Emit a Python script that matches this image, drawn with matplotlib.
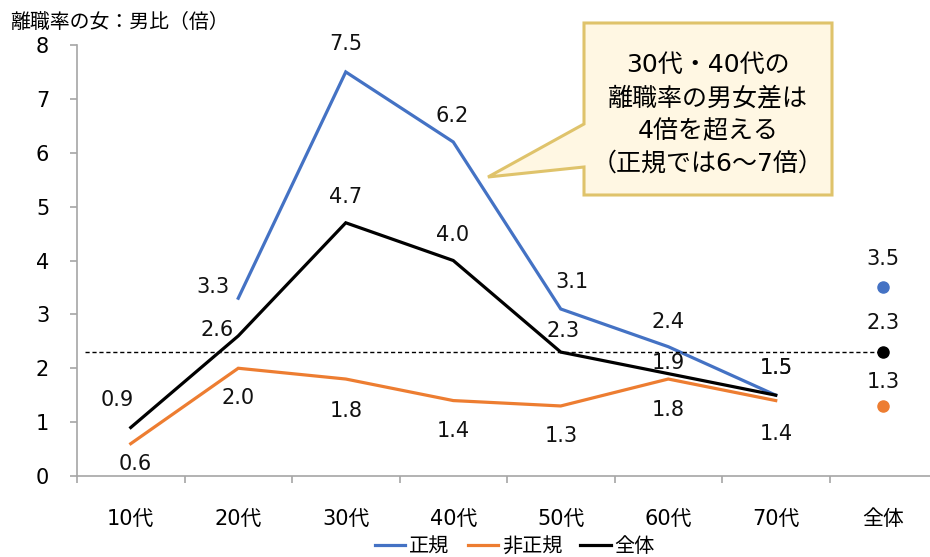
import numpy as np
import matplotlib.pyplot as plt
from matplotlib.patches import Polygon

plt.rcParams['font.family'] = ['DejaVu Sans', 'Noto Sans CJK JP']

# data
categories = ['10代', '20代', '30代', '40代', '50代', '60代', '70代', '全体']
seiki = [np.nan, 3.3, 7.5, 6.2, 3.1, 2.4, 1.5]
hiseiki = [0.6, 2.0, 1.8, 1.4, 1.3, 1.8, 1.4]
zentai = [0.9, 2.6, 4.7, 4.0, 2.3, 1.9, 1.5]
total_seiki = 3.5
total_hiseiki = 1.3
total_zentai = 2.3
series_names = ['正規', '非正規', '全体']

blue = '#4472C4'
orange = '#ED7D31'
black = '#000000'

W, H = 930, 557
fig = plt.figure(figsize=(W / 100, H / 100), dpi=100)

# axes placed in pixel terms (right edge runs slightly off the picture)
x0, x1, y0, y1 = 77, 937, 476, 45
ax = fig.add_axes([x0 / W, 1 - y0 / H, (x1 - x0) / W, (y0 - y1) / H])
ax.set_xlim(-0.5, 7.5)
ax.set_ylim(0, 8)

for s in ['top', 'right']:
    ax.spines[s].set_visible(False)
for s in ['left', 'bottom']:
    ax.spines[s].set_color('#A6A6A6')
    ax.spines[s].set_linewidth(1.2)

ax.set_yticks(range(0, 9))
ax.tick_params(axis='y', length=5, width=1.2, color='#A6A6A6', pad=15, labelsize=15)
ax.set_xticks(range(len(categories)))
ax.set_xticklabels(categories)
ax.tick_params(axis='x', which='major', length=0, pad=24, labelsize=15)
ax.set_xticks(np.arange(-0.5, 8.0, 1.0), minor=True)
ax.tick_params(axis='x', which='minor', length=5, width=1.2, color='#A6A6A6')

xs = np.arange(7)
ax.plot(xs, seiki, color=blue, lw=2.3, solid_joinstyle='miter', label=series_names[0])
ax.plot(xs, hiseiki, color=orange, lw=2.3, solid_joinstyle='miter', label=series_names[1])
ax.plot(xs, zentai, color=black, lw=2.3, solid_joinstyle='miter', label=series_names[2])

# reference line at the overall value
ax.plot([-0.43, 7], [total_zentai, total_zentai], color='black', lw=1.0,
        ls=(0, (3, 2)))

ax.plot([7], [total_seiki], 'o', color=blue, ms=8)
ax.plot([7], [total_zentai], 'o', color=black, ms=8)
ax.plot([7], [total_hiseiki], 'o', color=orange, ms=8)

# data labels, offsets in pixels
seiki_off = [None, (-25, 11), (0, 28), (-1, 26), (11, 27), (0, 25), (0, 27)]
hiseiki_off = [(4, -20), (0, -30), (0, -32), (0, -30), (0, -30), (0, -31), (0, -33)]
zentai_off = [(-14, 28), (-21, 6), (0, 26), (-1, 26), (2, 21), (0, 11), (0, 27)]

def put_labels(vals, offs):
    for i, (v, off) in enumerate(zip(vals, offs)):
        if off is None or np.isnan(v):
            continue
        ax.annotate(f'{v:.1f}', (i, v), xytext=off, textcoords='offset pixels',
                    ha='center', va='center', fontsize=15, color='#111111')

put_labels(seiki, seiki_off)
put_labels(hiseiki, hiseiki_off)
put_labels(zentai, zentai_off)
for v, dy in [(total_seiki, 28), (total_zentai, 29), (total_hiseiki, 24)]:
    ax.annotate(f'{v:.1f}', (7, v), xytext=(0, dy), textcoords='offset pixels',
                ha='center', va='center', fontsize=15, color='#111111')

# title
fig.text(10 / W, 1 - 22 / H, '離職率の女：男比（倍）', fontsize=14.3,
         family=['Noto Sans CJK JP'], ha='left', va='center')

# callout box
pts = [(584, 23), (832, 23), (832, 195), (584, 195), (584, 167), (488, 177), (584, 124)]
poly = Polygon([(x / W, 1 - y / H) for x, y in pts], closed=True,
               transform=fig.transFigure, facecolor='#FFF7E3', edgecolor='#DFC36B',
               lw=2.2, joinstyle='miter')
fig.patches.append(poly)
callout = ['30代・40代の', '離職率の男女差は', '4倍を超える', '（正規では6～7倍）']
for k, line in enumerate(callout):
    fig.text(708 / W, 1 - (65 + 33 * k) / H, line, fontsize=18,
             ha='center', va='center')

fig.legend(loc='center', bbox_to_anchor=(515 / W, 1 - 547 / H), ncol=3,
           frameon=False, handlelength=1.5, handletextpad=0.2,
           columnspacing=0.9, prop={'family': ['Noto Sans CJK JP'], 'size': 14.5})

fig.savefig('out.png', dpi=100)
